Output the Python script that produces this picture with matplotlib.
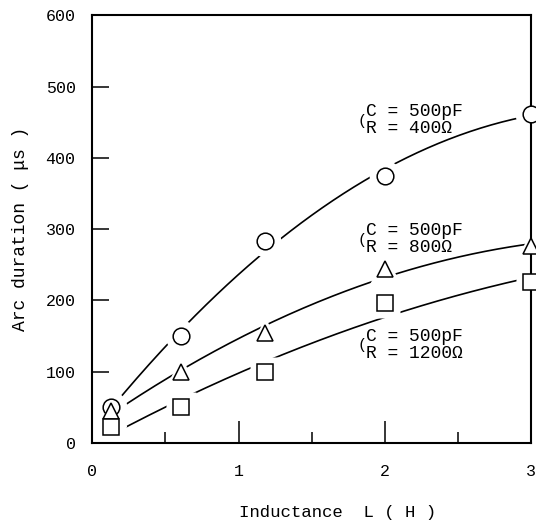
import numpy as np
import matplotlib
matplotlib.use("Agg")
import matplotlib.pyplot as plt

plt.rcParams['font.family'] = ['Liberation Mono', 'DejaVu Sans']

# Datos
inductance = [0.13, 0.61, 1.18, 2.0, 3.0]
arc_r400 = [50, 150, 284, 374, 462]
arc_r800 = [45, 100, 155, 244, 276]
arc_r1200 = [22, 51, 100, 197, 226]

series = [
    (arc_r400, 'o', 12, "C = 500pF", "R = 400\u03a9", (1.87, 465)),
    (arc_r800, '^', 12, "C = 500pF", "R = 800\u03a9", (1.87, 298)),
    (arc_r1200, 's', 11, "C = 500pF", "R = 1200\u03a9", (1.87, 150)),
]

fig = plt.figure(figsize=(5.36, 5.25), dpi=100)
ax = fig.add_axes([0.172, 0.156, 0.819, 0.815])

x_fit = np.linspace(inductance[0], inductance[-1], 200)
for ys, marker, ms, line1, line2, (tx, ty) in series:
    coef = np.polyfit(inductance, ys, 2)
    ax.plot(x_fit, np.polyval(coef, x_fit), color='black', lw=1.2, zorder=1)
    # halo blanco para dejar hueco entre linea y marcador
    ax.plot(inductance, ys, linestyle='none', marker=marker, ms=ms * 1.9,
            mfc='white', mec='none', zorder=2, clip_on=False)
    ax.plot(inductance, ys, linestyle='none', marker=marker, ms=ms,
            mfc='white', mec='black', mew=1.1, zorder=3, clip_on=False)
    ax.text(tx, ty, line1, fontsize=13, va='center', ha='left')
    ax.text(tx, ty - 24, line2, fontsize=13, va='center', ha='left')
    ax.text(tx - 0.06, ty - 13, "(", fontsize=11, va='center', ha='left')

ax.set_xlim(0, 3)
ax.set_ylim(0, 600)
ax.set_xticks([0, 1, 2, 3])
ax.set_xticks([0.5, 1.5, 2.5], minor=True)
ax.set_yticks(range(0, 601, 100))
ax.tick_params(axis='x', which='major', direction='in', length=16, width=1.1,
               pad=15, labelsize=12)
ax.tick_params(axis='x', which='minor', direction='in', length=8, width=1.1)
ax.tick_params(axis='y', direction='in', length=12, width=1.1, pad=12,
               labelsize=12)
for sp in ax.spines.values():
    sp.set_linewidth(1.5)

ax.set_ylabel("Arc duration ( \u03bcs )", fontsize=13, labelpad=12)
fig.text(0.63, 0.015, "Inductance  L ( H )", fontsize=12.5, ha='center')

fig.savefig("out.png", dpi=100)
